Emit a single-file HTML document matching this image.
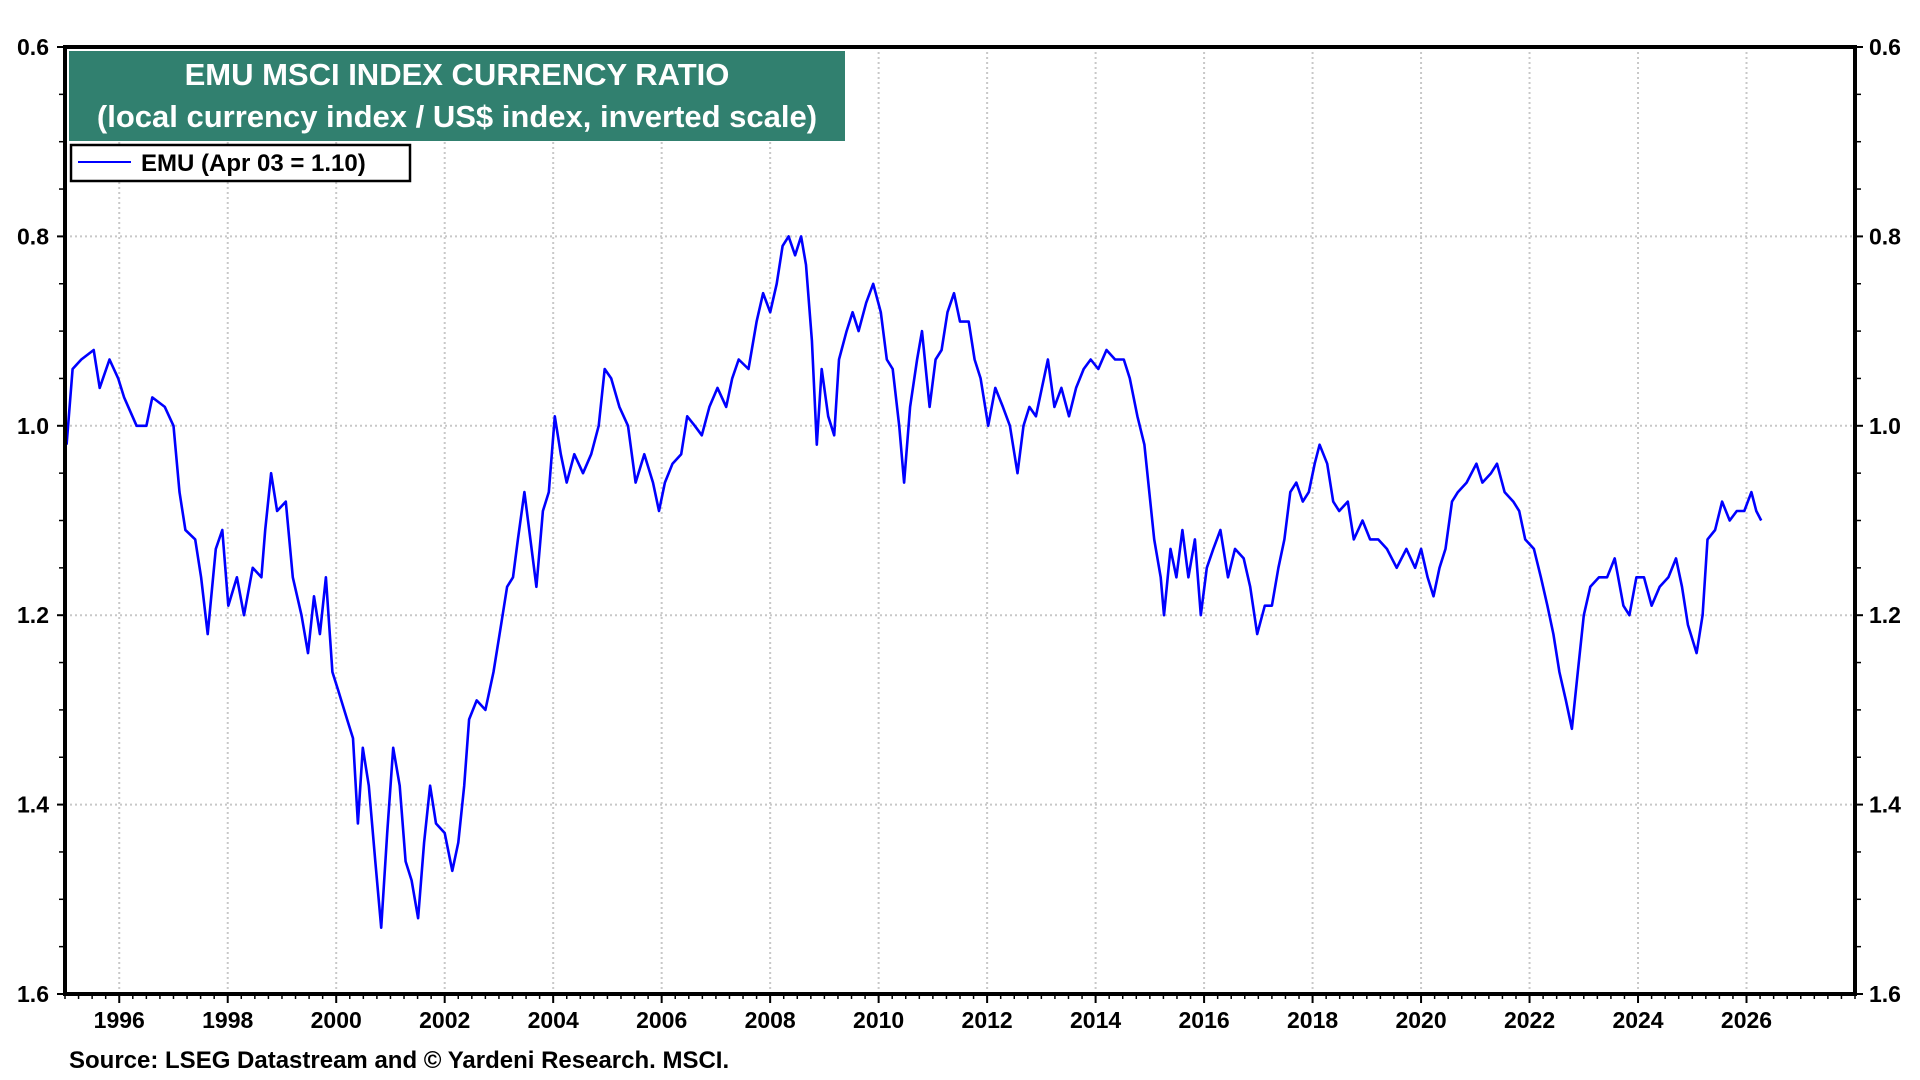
<!DOCTYPE html>
<html><head><meta charset="utf-8">
<style>
html,body{margin:0;padding:0;background:#fff;width:1920px;height:1080px;overflow:hidden}
svg text{font-family:"Liberation Sans",Arial,sans-serif;font-weight:bold}
</style></head>
<body>
<svg id="chart" width="1920" height="1080" xmlns="http://www.w3.org/2000/svg">
<g id="grid"></g>
<g id="axes"></g>
<path id="line" fill="none" stroke="#0000ff" stroke-width="2.6" stroke-linejoin="round"/>
<rect x="65" y="47" width="1790" height="947" fill="none" stroke="#000" stroke-width="4"/>
<g>
<rect x="69" y="51" width="776" height="90" fill="#31806f"/>
<text x="457" y="85" fill="#fff" font-size="31" text-anchor="middle">EMU MSCI INDEX CURRENCY RATIO</text>
<text x="457" y="127" fill="#fff" font-size="31" text-anchor="middle">(local currency index / US$ index, inverted scale)</text>
</g>
<g>
<rect x="71" y="145" width="339" height="36" fill="#fff" stroke="#000" stroke-width="2.5"/>
<line x1="78" y1="162" x2="131" y2="162" stroke="#0000ff" stroke-width="2"/>
<text x="141" y="171" font-size="24">EMU (Apr 03 = 1.10)</text>
</g>
<text x="69" y="1068" font-size="24">Source: LSEG Datastream and © Yardeni Research. MSCI.</text>
</svg>
<script>
const yearsSince1995=[0.03,0.14,0.30,0.53,0.64,0.82,0.98,1.09,1.32,1.50,1.61,1.84,2.00,2.11,2.22,2.40,2.51,2.63,2.78,2.90,3.01,3.17,3.30,3.46,3.62,3.69,3.80,3.91,4.07,4.20,4.36,4.48,4.59,4.70,4.81,4.93,5.04,5.20,5.31,5.40,5.49,5.60,5.72,5.83,5.94,6.05,6.17,6.28,6.39,6.51,6.62,6.73,6.84,7.00,7.14,7.25,7.36,7.45,7.59,7.75,7.90,8.04,8.15,8.26,8.35,8.47,8.58,8.69,8.81,8.92,9.03,9.14,9.25,9.39,9.55,9.70,9.84,9.95,10.07,10.22,10.38,10.52,10.68,10.84,10.95,11.06,11.20,11.36,11.47,11.61,11.74,11.88,12.03,12.19,12.30,12.42,12.60,12.75,12.87,13.00,13.12,13.23,13.34,13.46,13.57,13.66,13.77,13.86,13.95,14.07,14.18,14.27,14.41,14.52,14.63,14.77,14.90,15.04,15.15,15.26,15.38,15.47,15.58,15.71,15.80,15.94,16.05,16.16,16.27,16.39,16.50,16.66,16.77,16.88,17.02,17.15,17.29,17.42,17.56,17.67,17.78,17.90,18.01,18.12,18.24,18.37,18.51,18.64,18.78,18.91,19.05,19.20,19.36,19.52,19.63,19.77,19.90,19.99,20.08,20.20,20.26,20.38,20.49,20.60,20.71,20.83,20.94,21.05,21.17,21.30,21.44,21.57,21.73,21.85,21.98,22.12,22.25,22.37,22.48,22.59,22.70,22.82,22.93,23.04,23.13,23.27,23.38,23.49,23.65,23.76,23.92,24.06,24.21,24.37,24.55,24.73,24.89,25.00,25.12,25.23,25.34,25.45,25.57,25.68,25.84,26.02,26.13,26.29,26.40,26.54,26.70,26.81,26.92,27.08,27.21,27.33,27.44,27.55,27.67,27.78,27.89,28.00,28.12,28.28,28.43,28.57,28.73,28.84,28.97,29.11,29.25,29.40,29.56,29.70,29.81,29.92,30.08,30.19,30.28,30.42,30.55,30.69,30.82,30.96,31.09,31.18,31.27];
const emuValues=[1.02,0.94,0.93,0.92,0.96,0.93,0.95,0.97,1.00,1.00,0.97,0.98,1.00,1.07,1.11,1.12,1.16,1.22,1.13,1.11,1.19,1.16,1.20,1.15,1.16,1.11,1.05,1.09,1.08,1.16,1.20,1.24,1.18,1.22,1.16,1.26,1.28,1.31,1.33,1.42,1.34,1.38,1.46,1.53,1.43,1.34,1.38,1.46,1.48,1.52,1.44,1.38,1.42,1.43,1.47,1.44,1.38,1.31,1.29,1.30,1.26,1.21,1.17,1.16,1.12,1.07,1.12,1.17,1.09,1.07,0.99,1.03,1.06,1.03,1.05,1.03,1.00,0.94,0.95,0.98,1.00,1.06,1.03,1.06,1.09,1.06,1.04,1.03,0.99,1.00,1.01,0.98,0.96,0.98,0.95,0.93,0.94,0.89,0.86,0.88,0.85,0.81,0.80,0.82,0.80,0.83,0.91,1.02,0.94,0.99,1.01,0.93,0.90,0.88,0.90,0.87,0.85,0.88,0.93,0.94,1.00,1.06,0.98,0.93,0.90,0.98,0.93,0.92,0.88,0.86,0.89,0.89,0.93,0.95,1.00,0.96,0.98,1.00,1.05,1.00,0.98,0.99,0.96,0.93,0.98,0.96,0.99,0.96,0.94,0.93,0.94,0.92,0.93,0.93,0.95,0.99,1.02,1.07,1.12,1.16,1.20,1.13,1.16,1.11,1.16,1.12,1.20,1.15,1.13,1.11,1.16,1.13,1.14,1.17,1.22,1.19,1.19,1.15,1.12,1.07,1.06,1.08,1.07,1.04,1.02,1.04,1.08,1.09,1.08,1.12,1.10,1.12,1.12,1.13,1.15,1.13,1.15,1.13,1.16,1.18,1.15,1.13,1.08,1.07,1.06,1.04,1.06,1.05,1.04,1.07,1.08,1.09,1.12,1.13,1.16,1.19,1.22,1.26,1.29,1.32,1.26,1.20,1.17,1.16,1.16,1.14,1.19,1.20,1.16,1.16,1.19,1.17,1.16,1.14,1.17,1.21,1.24,1.20,1.12,1.11,1.08,1.10,1.09,1.09,1.07,1.09,1.10];
const yTicks=[0.6,0.8,1.0,1.2,1.4,1.6];
const yTickLabels=["0.6","0.8","1.0","1.2","1.4","1.6"];
const xTickYears=[1996,1998,2000,2002,2004,2006,2008,2010,2012,2014,2016,2018,2020,2022,2024,2026];

const L=65,R=1855,T=47,B=994,X0=1995,X1=2028,Y0=0.6,Y1=1.6;
const xs=y=>L+(y-X0)/(X1-X0)*(R-L);
const ys=v=>T+(v-Y0)/(Y1-Y0)*(B-T);
const NS="http://www.w3.org/2000/svg";
function mk(tag,attrs,parent,txt){const e=document.createElementNS(NS,tag);for(const k in attrs)e.setAttribute(k,attrs[k]);if(txt!==undefined)e.textContent=txt;parent.appendChild(e);return e;}
const grid=document.getElementById('grid'),axes=document.getElementById('axes');
yTicks.forEach((v,i)=>{
  const y=ys(v);
  if(i>0&&i<yTicks.length-1){const g=mk('line',{x1:L,x2:R,y1:y,y2:y,stroke:'#c8c8c8','stroke-width':2,'stroke-dasharray':'2,3'},grid);
  
  }
  mk('line',{x1:L-8,x2:L,y1:y,y2:y,stroke:'#000','stroke-width':2},axes);
  mk('line',{x1:R,x2:R+8,y1:y,y2:y,stroke:'#000','stroke-width':2},axes);
  const a=mk('text',{x:L-16,y:y+8,'font-size':23,'text-anchor':'end'},axes,yTickLabels[i]);
  
  
  const b=mk('text',{x:R+14,y:y+8,'font-size':23},axes,yTickLabels[i]);
  
  
  if(i<yTicks.length-1){for(let k=1;k<4;k++){const yy=ys(v+0.05*k);
    mk('line',{x1:L-6,x2:L,y1:yy,y2:yy,stroke:'#000','stroke-width':1.5},axes);
    mk('line',{x1:R,x2:R+6,y1:yy,y2:yy,stroke:'#000','stroke-width':1.5},axes);}}
});
for(let q=X0;q<=X1;q+=0.25){const x=xs(q);mk('line',{x1:x,x2:x,y1:B,y2:B+5,stroke:'#000','stroke-width':1.5},axes);}
xTickYears.forEach(yr=>{
  const x=xs(yr);
  const g=mk('line',{x1:x,x2:x,y1:T,y2:B,stroke:'#c8c8c8','stroke-width':2,'stroke-dasharray':'2,3'},grid);
  
  
  mk('line',{x1:x,x2:x,y1:B,y2:B+9,stroke:'#000','stroke-width':2},axes);
  const t=mk('text',{x:x,y:B+34,'font-size':23,'text-anchor':'middle'},axes,String(yr));
  
  
});
let d='';
yearsSince1995.forEach((t,i)=>{d+=(i?'L':'M')+xs(X0+t).toFixed(1)+','+ys(emuValues[i]).toFixed(1);});
document.getElementById('line').setAttribute('d',d);
</script>
</body></html>
